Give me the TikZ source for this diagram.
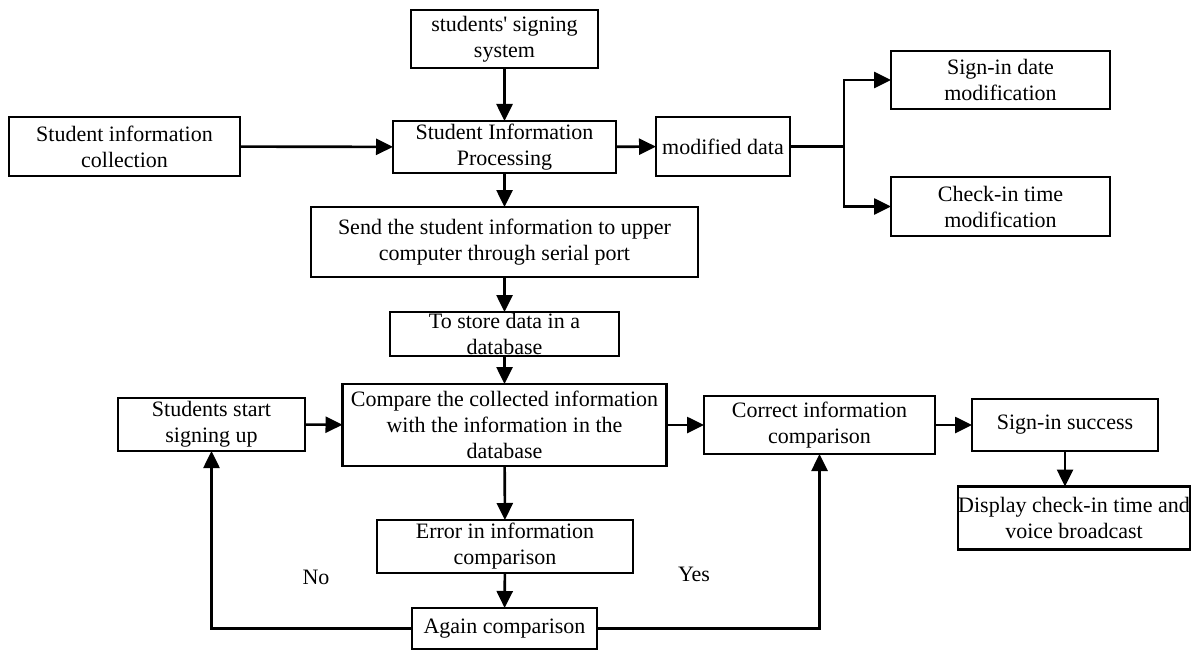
\documentclass[tikz,border=0pt]{standalone}
\usepackage{fontspec}
\setmainfont{Liberation Serif}
\usetikzlibrary{arrows.meta}
\begin{document}
\begin{tikzpicture}[x=1pt,y=-1pt,
  box/.style={draw,line width=2.2pt,inner sep=0pt,outer sep=0pt,align=center,
    font=\fontsize{22}{26}\selectfont},
  conn/.style={line width=2.6pt,-{Triangle[length=17pt,width=16pt]}},
  plain/.style={line width=2.6pt},
  lbl/.style={font=\fontsize{22}{26}\selectfont,inner sep=0pt}]
\useasboundingbox (0,0) rectangle (1201,650);
\node[box,minimum width=187pt,minimum height=58pt] (sys) at (504.5,39) {students\textquotesingle{} signing\\system};
\node[box,minimum width=231pt,minimum height=59pt] (coll) at (124.5,146.5) {Student information\\collection};
\node[box,minimum width=223pt,minimum height=52pt] (proc) at (504.5,147) {Student Information\\Processing};
\node[box,minimum width=134pt,minimum height=59pt] (mod) at (723,146.5) {modified data};
\node[box,minimum width=219pt,minimum height=58pt] (date) at (1000.5,80) {Sign-in date\\modification};
\node[box,minimum width=219pt,minimum height=59pt] (time) at (1000.5,206.5) {Check-in time\\modification};
\node[box,minimum width=387pt,minimum height=70pt] (send) at (504.5,242) {Send the student information to upper\\computer through serial port};
\node[box,minimum width=229pt,minimum height=44pt] (store) at (504.5,334) {To store data in a\\database};
\node[box,minimum width=187pt,minimum height=53pt] (start) at (211.5,424.5) {Students start\\signing up};
\node[box,minimum width=324pt,minimum height=82pt] (cmp) at (504.5,425) {Compare the collected information\\with the information in the\\database};
\node[box,minimum width=231pt,minimum height=58pt] (corr) at (819.5,425) {Correct information\\comparison};
\node[box,minimum width=186pt,minimum height=52pt] (succ) at (1065,425) {Sign-in success};
\node[box,minimum width=232pt,minimum height=63pt] (disp) at (1074,518) {Display check-in time and\\voice broadcast};
\node[box,minimum width=256pt,minimum height=53pt] (err) at (505,546.5) {Error in information\\comparison};
\node[box,minimum width=185pt,minimum height=41pt] (again) at (504.5,628.5) {Again comparison};
\node[lbl] (no) at (316,577) {No};
\node[lbl] (yes) at (694,574) {Yes};
\coordinate (br) at (844,146.5);
\draw[conn] (sys) -- (proc);
\draw[conn] (coll) -- (proc);
\draw[conn] (proc) -- (mod);
\draw[plain] (mod.east) -- (br);
\draw[conn] (br) |- (date.west);
\draw[conn] (br) |- (time.west);
\draw[conn] (proc) -- (send);
\draw[conn] (send) -- (store);
\draw[conn] (store) -- (cmp);
\draw[conn] (start) -- (cmp);
\draw[conn] (cmp) -- (corr);
\draw[conn] (corr) -- (succ);
\draw[conn] (succ.south) -- (succ.south |- disp.north);
\draw[conn] (cmp) -- (err);
\draw[conn] (err) -- (again);
\draw[conn] (again.west) -| (start.south);
\draw[conn] (again.east) -| (corr.south);
\end{tikzpicture}
\end{document}
